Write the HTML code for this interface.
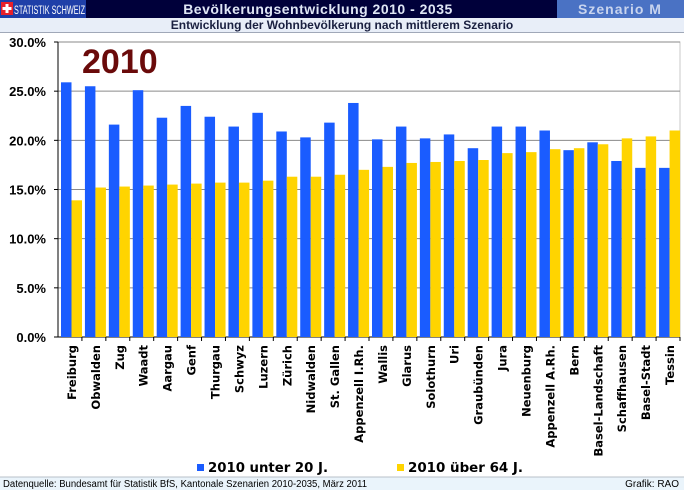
<!DOCTYPE html>
<html><head><meta charset="utf-8"><style>
body{margin:0;width:684px;height:490px;background:#fff;overflow:hidden;font-family:"Liberation Sans",Arial,sans-serif}
svg{display:block}
</style></head><body>
<svg id="s" width="684" height="490" xmlns="http://www.w3.org/2000/svg" font-family="Liberation Sans, Arial, sans-serif">
<rect x="0" y="0" width="684" height="18" fill="#00003a"/>
<rect x="557" y="0" width="127" height="18" fill="#4a72c4"/>
<rect x="0" y="0" width="86" height="18" fill="#1f3fa8"/>
<rect x="1" y="2" width="12" height="13" fill="#e8202a"/>
<rect x="5.5" y="4" width="3" height="9" fill="#fff"/><rect x="2.5" y="7" width="9" height="3" fill="#fff"/>
<text x="14" y="14" font-size="11.5" fill="#fff" textLength="71" lengthAdjust="spacingAndGlyphs">STATISTIK SCHWEIZ</text>
<text x="318" y="14" font-size="14" font-weight="bold" fill="#dfe6f5" text-anchor="middle" letter-spacing="0.5">Bevölkerungsentwicklung 2010 - 2035</text>
<text x="620" y="14" font-size="14" font-weight="bold" fill="#c8d4ee" text-anchor="middle" letter-spacing="1">Szenario M</text>
<rect x="0" y="18" width="684" height="15" fill="#e8eef8"/>
<line x1="0" y1="32.5" x2="684" y2="32.5" stroke="#a0a8b8"/>
<text x="342" y="29" font-size="12" font-weight="bold" fill="#1a2040" text-anchor="middle">Entwicklung der Wohnbevölkerung nach mittlerem Szenario</text>
<g id="plot"></g>
<text x="82" y="73" font-size="34" font-weight="bold" fill="#6a0a0a">2010</text>
<rect x="197" y="464" width="7" height="7" fill="#1a5cff"/>
<text x="208" y="472" font-size="13.5" font-weight="bold" fill="#000" font-family="DejaVu Sans, sans-serif" textLength="120" lengthAdjust="spacingAndGlyphs">2010 unter 20 J.</text>
<rect x="397" y="464" width="7" height="7" fill="#ffd400"/>
<text x="408" y="472" font-size="13.5" font-weight="bold" fill="#000" font-family="DejaVu Sans, sans-serif" textLength="115" lengthAdjust="spacingAndGlyphs">2010 über 64 J.</text>
<rect x="0" y="477" width="684" height="13" fill="#eaf4fb"/>
<line x1="0" y1="477" x2="684" y2="477" stroke="#b8c0c8"/>
<text x="3" y="487" font-size="10" fill="#000" textLength="364" lengthAdjust="spacingAndGlyphs">Datenquelle: Bundesamt für Statistik BfS, Kantonale Szenarien 2010-2035, März  2011</text>
<text x="679" y="487" font-size="10" fill="#000" text-anchor="end">Grafik: RAO</text>
</svg>
<script>
var d=[["Freiburg",25.9,13.9],["Obwalden",25.5,15.2],["Zug",21.6,15.3],["Waadt",25.1,15.4],["Aargau",22.3,15.5],["Genf",23.5,15.6],["Thurgau",22.4,15.7],["Schwyz",21.4,15.7],["Luzern",22.8,15.9],["Zürich",20.9,16.3],["Nidwalden",20.3,16.3],["St. Gallen",21.8,16.5],["Appenzell I.Rh.",23.8,17.0],["Wallis",20.1,17.3],["Glarus",21.4,17.7],["Solothurn",20.2,17.8],["Uri",20.6,17.9],["Graubünden",19.2,18.0],["Jura",21.4,18.7],["Neuenburg",21.4,18.8],["Appenzell A.Rh.",21.0,19.1],["Bern",19.0,19.2],["Basel-Landschaft",19.8,19.6],["Schaffhausen",17.9,20.2],["Basel-Stadt",17.2,20.4],["Tessin",17.2,21.0]];
var g=document.getElementById('plot'),h='';
var x0=58,x1=680,y0=337,ppv=295/30,gw=(x1-x0)/26;
h+='<rect x="'+x0+'" y="42" width="'+(x1-x0)+'" height="295" fill="#fff" stroke="#c8c8c8"/>';
for(var i=0;i<=6;i++){var y=y0-i*5*ppv;
if(i>0)h+='<line x1="'+x0+'" y1="'+y+'" x2="'+x1+'" y2="'+y+'" stroke="#8a8a8a" stroke-width="1"/>';
h+='<line x1="'+(x0-4)+'" y1="'+y+'" x2="'+x0+'" y2="'+y+'" stroke="#000"/>';
h+='<text x="46" y="'+(y+5)+'" font-size="13" font-weight="bold" text-anchor="end">'+(i*5).toFixed(1)+'%</text>';}
h+='<line x1="'+x0+'" y1="42" x2="'+x0+'" y2="'+y0+'" stroke="#000"/>';
h+='<line x1="'+x0+'" y1="'+y0+'" x2="'+x1+'" y2="'+y0+'" stroke="#000"/>';
for(var k=0;k<26;k++){var gx=x0+k*gw;
var hb=d[k][1]*ppv,hy=d[k][2]*ppv;
h+='<rect x="'+(gx+3)+'" y="'+(y0-hb)+'" width="10.5" height="'+hb+'" fill="#1a5cff"/>';
h+='<rect x="'+(gx+13.5)+'" y="'+(y0-hy)+'" width="10.5" height="'+hy+'" fill="#ffd400"/>';
h+='<line x1="'+(gx+gw)+'" y1="'+y0+'" x2="'+(gx+gw)+'" y2="'+(y0+4)+'" stroke="#000"/>';
var cx=gx+gw/2+6;
h+='<text transform="translate('+cx+',345) rotate(-90)" font-size="11.5" font-weight="bold" text-anchor="end" font-family="DejaVu Sans, sans-serif">'+d[k][0]+'</text>';}
g.innerHTML=h;
</script>
</body></html>
